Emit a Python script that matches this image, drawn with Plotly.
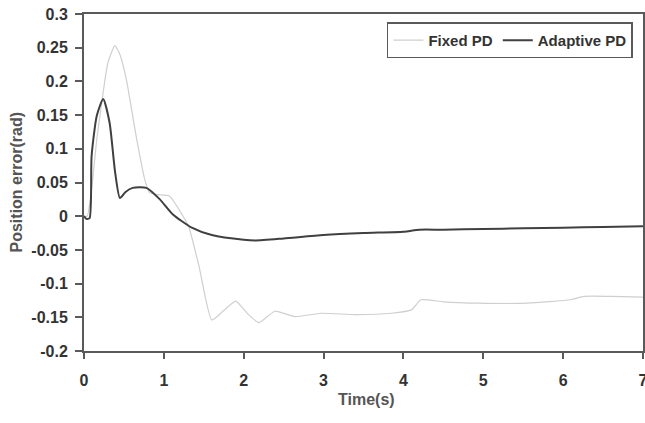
import plotly.graph_objects as go

# Data
adaptive_t = [0, 0.03, 0.07, 0.095, 0.16, 0.24, 0.32, 0.39, 0.45, 0.52, 0.61, 0.78, 0.95, 1.11,
              1.35, 1.6, 2.0, 2.15, 2.5, 3.0, 3.5, 4.0, 4.2, 4.5, 5.0, 5.5, 6.0, 6.5, 7.0]
adaptive_e = [0, -0.004, -0.003, 0.089, 0.149, 0.174, 0.139, 0.065, 0.027, 0.036, 0.042, 0.042,
              0.025, 0.003, -0.017, -0.028, -0.035, -0.036, -0.033, -0.028, -0.025, -0.023,
              -0.020, -0.020, -0.019, -0.018, -0.017, -0.016, -0.015]

fixed_t = [0, 0.04, 0.095, 0.16, 0.24, 0.3, 0.386, 0.45, 0.53, 0.66, 0.76, 0.82, 0.92, 1.07,
           1.24, 1.31, 1.44, 1.6, 1.75, 1.9, 2.05, 2.19, 2.39, 2.64, 2.97, 3.4, 3.85, 4.1,
           4.22, 4.5, 4.93, 5.55, 6.09, 6.26, 6.6, 7.0]
fixed_e = [0, 0, 0.04, 0.114, 0.184, 0.228, 0.253, 0.24, 0.203, 0.114, 0.055, 0.035, 0.032,
           0.03, 0, -0.015, -0.074, -0.154, -0.14, -0.126, -0.145, -0.158, -0.141, -0.149,
           -0.144, -0.146, -0.144, -0.139, -0.124, -0.127, -0.129, -0.129, -0.124, -0.119,
           -0.119, -0.12]

x_ticks = [0, 1, 2, 3, 4, 5, 6, 7]
y_ticks = [-0.2, -0.15, -0.1, -0.05, 0, 0.05, 0.1, 0.15, 0.2, 0.25, 0.3]
y_tick_text = ["-0.2", "-0.15", "-0.1", "-0.05", "0", "0.05", "0.1", "0.15", "0.2", "0.25", "0.3"]

FONT = "Liberation Sans, Arial, sans-serif"
AX = "#5a5a5a"
TXT = "#333333"

fig = go.Figure()
fig.add_trace(go.Scatter(x=fixed_t, y=fixed_e, mode="lines", name="Fixed PD",
                         line=dict(color="#cfcfcf", width=1.2, shape="spline", smoothing=0.5)))
fig.add_trace(go.Scatter(x=adaptive_t, y=adaptive_e, mode="lines", name="Adaptive PD",
                         line=dict(color="#404040", width=2, shape="spline", smoothing=0.6)))

fig.update_layout(
    width=645, height=423,
    margin=dict(l=84, r=2, t=14, b=72, autoexpand=False),
    paper_bgcolor="white", plot_bgcolor="white",
    font=dict(family=FONT, color=TXT, size=16, weight="bold"),
    showlegend=True,
    legend=dict(orientation="h", x=0.982, xanchor="right", y=0.975, yanchor="top",
                bgcolor="white", bordercolor=AX, borderwidth=1.5,
                font=dict(family=FONT, size=15, color=TXT, weight="bold"),
                itemwidth=30, tracegroupgap=0),
    annotations=[
        dict(text="Time(s)", xref="paper", yref="paper", x=0.506, y=-0.1454,
             xanchor="center", yanchor="middle", showarrow=False,
             font=dict(family=FONT, size=16, weight="bold", color="#555555")),
        dict(text="Position error(rad)", xref="paper", yref="paper", x=-0.1199, y=0.5,
             xanchor="center", yanchor="middle", showarrow=False, textangle=-90,
             font=dict(family=FONT, size=16, weight="bold", color="#555555")),
    ],
)
fig.update_xaxes(range=[0, 7], tickvals=x_ticks, showgrid=False, zeroline=False,
                 showline=True, linecolor=AX, linewidth=2, mirror=True, automargin=False,
                 ticks="outside", ticklen=6, tickcolor=AX, tickwidth=2, ticklabelstandoff=8,
                 ticklabeloverflow="allow",
                 tickfont=dict(family=FONT, size=16, weight="bold", color=TXT))
fig.update_yaxes(range=[-0.2, 0.3], tickvals=y_ticks, ticktext=y_tick_text, showgrid=False,
                 zeroline=False, showline=True, linecolor=AX, linewidth=2, mirror=True, automargin=False,
                 ticks="outside", ticklen=7, tickcolor=AX, tickwidth=2, ticklabelstandoff=4,
                 ticklabeloverflow="allow",
                 tickfont=dict(family=FONT, size=16, weight="bold", color=TXT))

fig.write_html("out.html", config={"displayModeBar": False},
               post_script="document.body.style.margin='0px';document.body.style.overflow='hidden';")
